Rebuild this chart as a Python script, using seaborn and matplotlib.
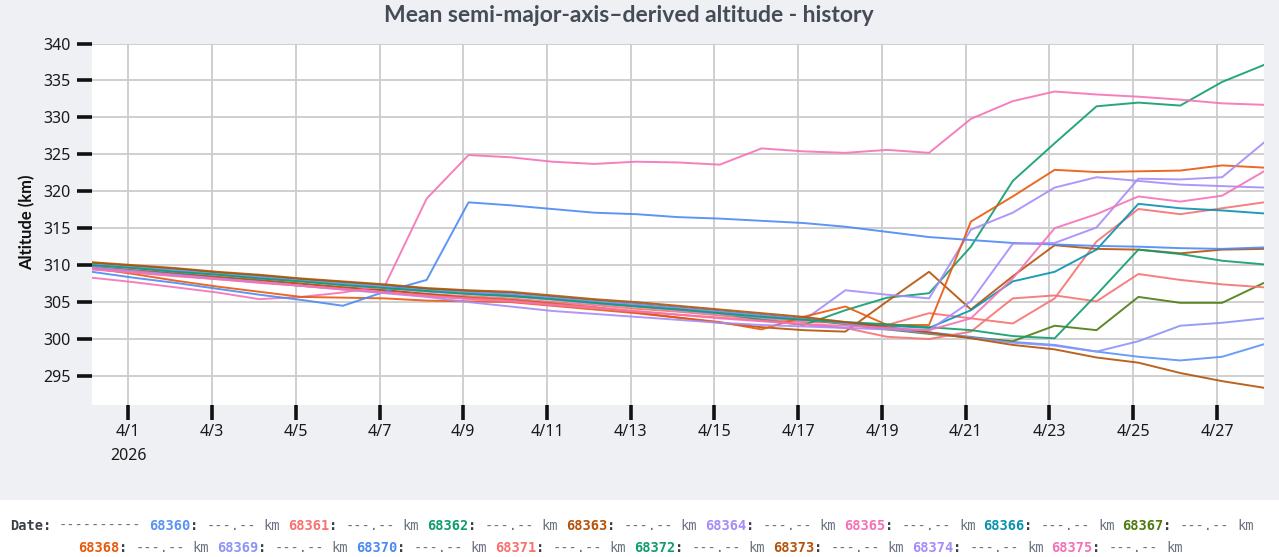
import numpy as np
import pandas as pd
import matplotlib
matplotlib.use("Agg")
import matplotlib.pyplot as plt
import matplotlib.patches as mpatches
import seaborn as sns

# daily samples, 3/31 -> 4/28 (2026)
times = pd.date_range("2026-03-31 03:00", periods=29, freq="D")

sat_ids = ["68360", "68361", "68362", "68363", "68364", "68365", "68366", "68367",
           "68368", "68369", "68370", "68371", "68372", "68373", "68374", "68375"]

sat_colors = ["#5b93f5", "#f87171", "#0f9d6e", "#b45309", "#a78bfa", "#f472b6", "#0891b2", "#4d7c0f",
              "#ea580c", "#8b95f8", "#4a8af4", "#f87171", "#0f9d6e", "#b45309", "#a78bfa", "#f472b6"]

# altitude values (km)
alt_68360 = [310.2, 309.8, 309.4, 308.9, 308.5, 308.0, 307.6, 307.2, 306.7, 306.4,
             306.2, 305.7, 305.2, 304.8, 304.3, 303.8, 303.3, 302.8, 302.2, 301.5,
             300.9, 300.3, 299.6, 299.2, 298.3, 297.6, 297.1, 297.6, 299.3]
alt_68361 = [309.7, 309.3, 308.8, 308.4, 307.9, 307.5, 307.0, 306.6, 306.1, 305.8,
             305.5, 305.0, 304.6, 304.1, 303.7, 303.2, 302.7, 302.3, 302.2, 301.9,
             303.5, 302.8, 302.1, 305.5, 313.2, 317.6, 316.9, 317.7, 318.5]
alt_68362 = [310.1, 309.7, 309.2, 308.8, 308.3, 307.9, 307.4, 307.0, 306.6, 306.2,
             305.9, 305.4, 304.9, 304.5, 304.0, 303.5, 302.6, 301.9, 303.9, 305.6,
             306.2, 312.5, 321.4, 326.5, 331.5, 332.0, 331.6, 334.8, 337.1]
alt_68363 = [309.8, 309.3, 308.9, 308.4, 308.0, 307.5, 307.0, 306.6, 306.1, 305.6,
             305.3, 304.8, 304.3, 303.6, 302.9, 302.2, 301.6, 301.2, 301.0, 305.1,
             309.1, 304.0, 308.5, 312.7, 312.2, 312.1, 311.6, 312.1, 312.2]
alt_68364 = [310.0, 309.6, 309.1, 308.7, 308.2, 307.8, 307.3, 306.9, 306.4, 306.1,
             305.8, 305.3, 304.8, 304.4, 303.9, 303.4, 302.9, 302.5, 306.6, 306.0,
             305.5, 314.8, 317.1, 320.5, 321.9, 321.4, 320.9, 320.7, 320.5]
alt_68365 = [308.3, 307.7, 307.0, 306.3, 305.4, 305.7, 306.3, 307.2, 319.0, 324.9,
             324.6, 324.0, 323.7, 324.0, 323.9, 323.6, 325.8, 325.4, 325.2, 325.6,
             325.2, 329.8, 332.2, 333.5, 333.1, 332.8, 332.4, 331.9, 331.7]
alt_68366 = [310.1, 309.7, 309.3, 308.8, 308.4, 307.9, 307.5, 307.1, 306.6, 306.3,
             306.0, 305.6, 305.1, 304.7, 304.2, 303.7, 303.2, 302.7, 302.2, 301.8,
             301.5, 303.9, 307.8, 309.1, 312.1, 318.3, 317.7, 317.4, 317.0]
alt_68367 = [310.3, 309.9, 309.5, 309.0, 308.6, 308.1, 307.7, 307.3, 306.8, 306.5,
             306.2, 305.7, 305.2, 304.7, 304.2, 303.7, 303.2, 302.7, 302.0, 301.3,
             300.7, 300.2, 299.7, 301.8, 301.2, 305.7, 304.9, 304.9, 307.6]
alt_68368 = [309.6, 308.8, 307.9, 307.1, 306.4, 305.7, 305.6, 305.5, 305.2, 305.1,
             305.0, 304.5, 304.0, 303.5, 302.9, 302.3, 301.3, 303.0, 304.4, 301.9,
             301.9, 315.9, 319.3, 322.9, 322.6, 322.7, 322.8, 323.5, 323.2]
alt_68369 = [310.1, 309.7, 309.3, 308.8, 308.4, 307.9, 307.5, 307.1, 306.6, 306.3,
             306.1, 305.6, 305.1, 304.7, 304.2, 303.7, 303.2, 302.7, 302.1, 301.4,
             300.8, 300.2, 299.5, 299.1, 298.3, 299.7, 301.8, 302.2, 302.8]
alt_68370 = [309.1, 308.3, 307.6, 306.8, 306.0, 305.3, 304.5, 306.4, 308.0, 318.5,
             318.1, 317.6, 317.1, 316.9, 316.5, 316.3, 316.0, 315.7, 315.2, 314.5,
             313.8, 313.4, 313.0, 312.8, 312.6, 312.5, 312.3, 312.2, 312.4]
alt_68371 = [309.5, 309.0, 308.6, 308.1, 307.7, 307.2, 306.8, 306.3, 305.9, 305.5,
             305.2, 304.7, 304.3, 303.8, 303.3, 302.9, 302.5, 302.0, 301.5, 300.3,
             300.0, 301.0, 305.5, 305.9, 305.1, 308.8, 308.0, 307.4, 307.0]
alt_68372 = [310.0, 309.6, 309.1, 308.7, 308.2, 307.8, 307.3, 306.9, 306.5, 306.1,
             305.8, 305.4, 304.9, 304.4, 304.0, 303.5, 303.0, 302.6, 302.3, 302.0,
             301.6, 301.2, 300.4, 300.1, 306.0, 312.1, 311.5, 310.6, 310.1]
alt_68373 = [310.4, 310.0, 309.6, 309.1, 308.7, 308.2, 307.8, 307.4, 306.9, 306.6,
             306.4, 305.9, 305.4, 305.0, 304.5, 304.0, 303.5, 303.0, 302.3, 301.6,
             300.9, 300.1, 299.2, 298.6, 297.5, 296.8, 295.4, 294.3, 293.4]
alt_68374 = [309.7, 309.2, 308.7, 308.2, 307.7, 307.2, 306.7, 306.2, 305.7, 305.0,
             304.4, 303.8, 303.4, 303.0, 302.6, 302.2, 301.9, 301.7, 301.5, 301.3,
             301.2, 305.1, 312.9, 313.0, 315.1, 321.7, 321.6, 321.9, 326.6]
alt_68375 = [309.4, 309.0, 308.5, 308.1, 307.6, 307.2, 306.7, 306.3, 305.8, 305.4,
             305.1, 304.6, 304.2, 303.7, 303.3, 302.8, 302.4, 302.0, 301.8, 301.5,
             301.2, 302.8, 308.2, 315.0, 316.9, 319.3, 318.6, 319.4, 322.7]

all_alts = [alt_68360, alt_68361, alt_68362, alt_68363, alt_68364, alt_68365, alt_68366, alt_68367,
            alt_68368, alt_68369, alt_68370, alt_68371, alt_68372, alt_68373, alt_68374, alt_68375]

y_ticks = [295, 300, 305, 310, 315, 320, 325, 330, 335, 340]
x_ticks = pd.date_range("2026-04-01", "2026-04-27", freq="2D")
x_labels = [f"{d.month}/{d.day}" for d in x_ticks]
x_labels[0] = x_labels[0] + "\n2026"

# long-form table for seaborn
rows = []
for sid, vals in zip(sat_ids, all_alts):
    for t, v in zip(times, vals):
        rows.append((sid, t, v))
df = pd.DataFrame(rows, columns=["sat", "time", "alt"])
palette = dict(zip(sat_ids, sat_colors))

W, H = 1279, 557
fig = plt.figure(figsize=(W / 100, H / 100), dpi=100, facecolor="white")
fig.patches.append(mpatches.Rectangle((0, 1 - 500 / H), 1, 500 / H, transform=fig.transFigure,
                                      facecolor="#eef0f4", edgecolor="none", zorder=-10))

ax = fig.add_axes([91.7 / W, 1 - 405 / H, (1264 - 91.7) / W, (405 - 43.5) / H])
ax.set_facecolor("white")

sns.lineplot(data=df, x="time", y="alt", hue="sat", hue_order=sat_ids, palette=palette,
             linewidth=1.4, alpha=0.9, legend=False, ax=ax)

ax.set_xlim(times[0], times[-1])
ax.set_ylim(291.07, 340)
ax.set_yticks(y_ticks)
ax.set_xticks(x_ticks)
ax.set_xticklabels(x_labels, linespacing=1.6)
ax.set_xlabel("")
ax.set_ylabel("")
ax.grid(True, color="#cccccc", linewidth=1.3)
ax.set_axisbelow(True)
for s in ax.spines.values():
    s.set_visible(False)
ax.tick_params(axis="both", length=11, width=2.6, color="#111111", labelsize=11.5,
               labelcolor="#1a1a1a", pad=4)
ax.tick_params(axis="x", pad=3)
for lab in ax.get_xticklabels() + ax.get_yticklabels():
    lab.set_fontfamily("Noto Sans")

fig.text(0.492, 1 - 16 / H, "Mean semi-major-axis\u2013derived altitude - history",
         ha="center", va="center", fontsize=16.5, fontweight="bold", color="#464c57",
         family="Lato")
fig.text(27 / W, 1 - 222 / H, "Altitude (km)", rotation=90, ha="center", va="center",
         fontsize=12, fontweight="bold", color="#111111", family="Lato")

# readout line under the chart
cw = 8.18
grey = "#6b7280"
dark = "#3a3f47"


def put(x_px, y_px, s, color, bold=False):
    fig.text(x_px / W, 1 - y_px / H, s, ha="left", va="center", fontsize=9.8,
             family="DejaVu Sans Mono", color=color, fontweight="bold" if bold else "normal")


def readout_line(x0, y, items, with_date=False):
    pos = 0
    if with_date:
        put(x0, y, "Date:", dark, True)
        put(x0 + 6 * cw, y, "----------", grey)
        pos = 17
    for sid, col in items:
        put(x0 + pos * cw, y, sid, col, True)
        put(x0 + (pos + 5) * cw, y, ":", dark, True)
        put(x0 + (pos + 7) * cw, y, "---.--", grey)
        put(x0 + (pos + 14) * cw, y, "km", grey)
        pos += 17


items = list(zip(sat_ids, sat_colors))
readout_line(10, 526, items[:8], with_date=True)
readout_line(78, 548, items[8:])

fig.savefig("out.png", dpi=100, facecolor=fig.get_facecolor())
